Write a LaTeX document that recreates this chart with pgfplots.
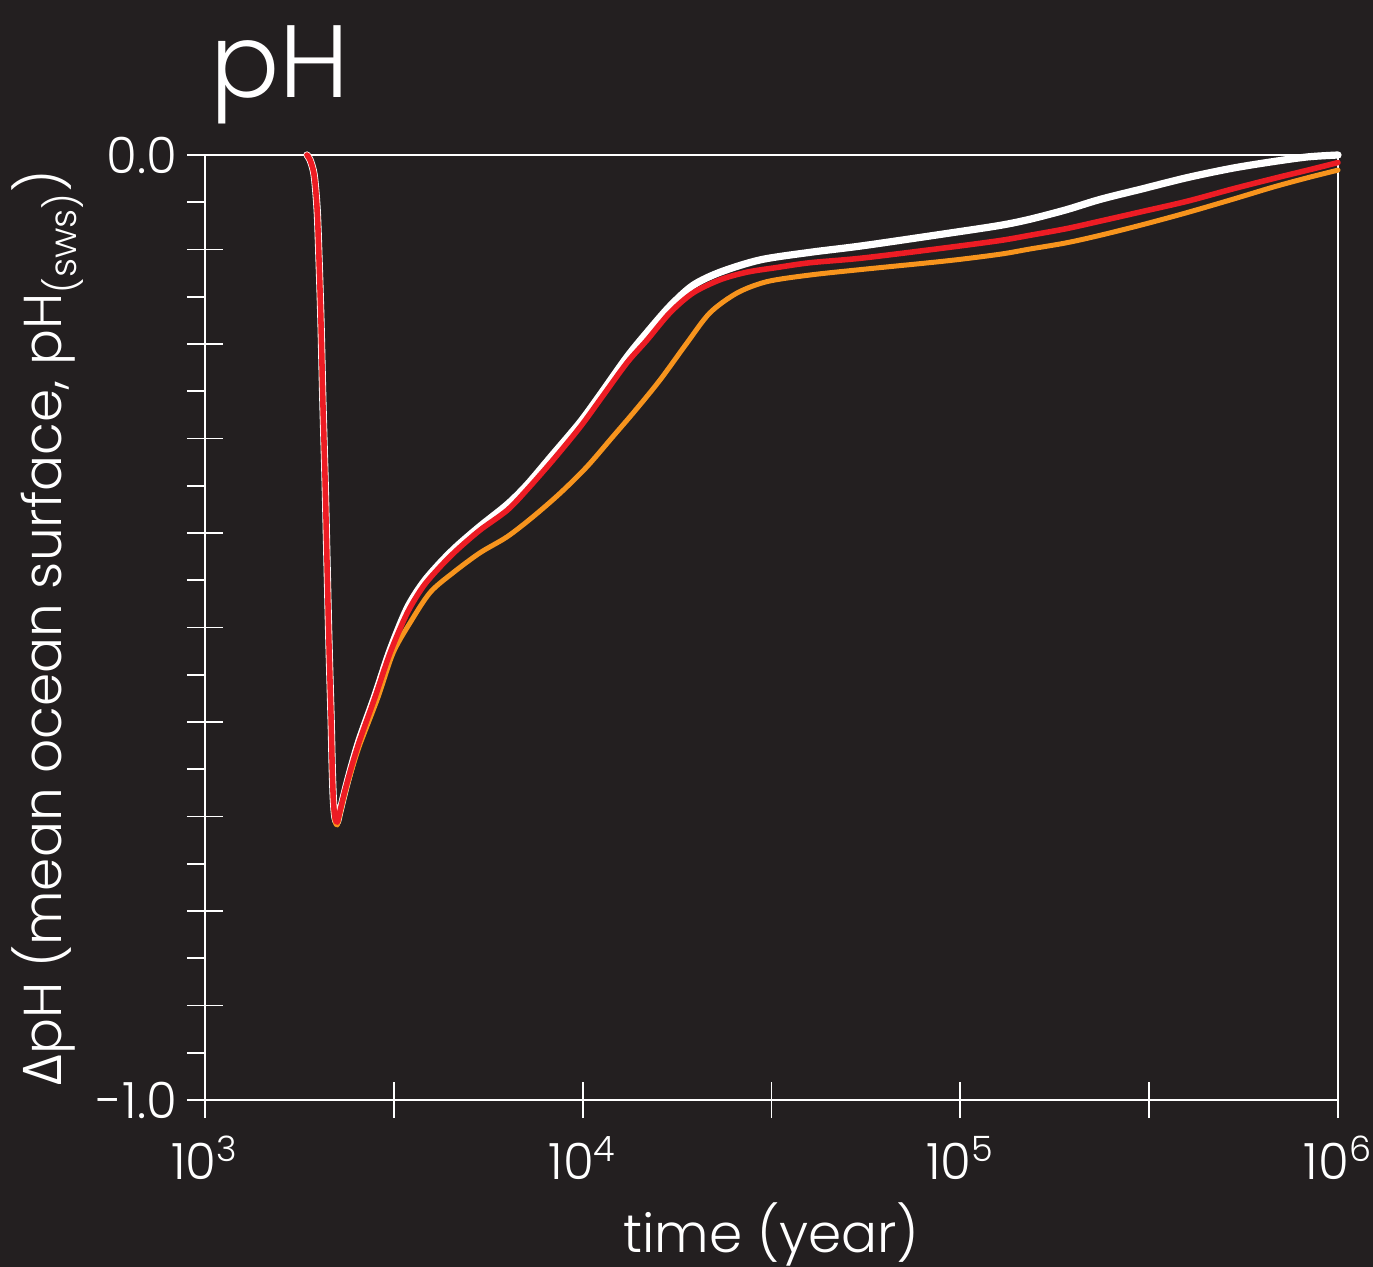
\documentclass[border=0pt]{standalone}
\usepackage{pgfplots}
\pgfplotsset{compat=1.18}
\usepackage{fontspec}
\setmainfont{Poppins}[UprightFont={* Light}]
\newfontfamily\greekfont{Open Sans}
\definecolor{bgc}{HTML}{231F20}
\definecolor{pred}{HTML}{ED1C24}
\definecolor{porange}{HTML}{F7941D}
\begin{document}
\begin{tikzpicture}
\fill[bgc] (-73.8pt,-60.1pt) rectangle (420.5pt,396pt);
\begin{axis}[
  at={(0,0)}, anchor=south west,
  scale only axis, width=407.9pt, height=340.2pt,
  xmin=3, xmax=6, ymin=-1, ymax=0,
  clip=false,
  axis line style={white, line width=0.8pt},
  every tick/.style={white, line width=0.7pt},
  tick align=center, major tick length=13pt, minor tick length=6.5pt,
  minor tick style={xshift=-3.25pt},
  xtick pos=bottom, ytick pos=left,
  xtick={3,3.5,4,4.5,5,5.5,6},
  xticklabels={10\textsuperscript{3},,10\textsuperscript{4},,10\textsuperscript{5},,10\textsuperscript{6}},
  ytick={-1,-0.9,-0.8,-0.7,-0.6,-0.5,-0.4,-0.3,-0.2,-0.1,0},
  yticklabels={-1.0,,,,,,,,,,0.0},
  minor ytick={-0.95,-0.85,-0.75,-0.65,-0.55,-0.45,-0.35,-0.25,-0.15,-0.05},
  ticklabel style={white, font=\fontsize{18}{20}\selectfont},
  xticklabel style={anchor=base, yshift=-22pt},
  yticklabel style={anchor=east},
  xlabel style={white, font=\fontsize{19.2}{22}\selectfont, at={(axis description cs:0.5,-0.161)}, anchor=base},
  ylabel style={white, font=\fontsize{19.2}{22}\selectfont, at={(axis description cs:-0.1263,0.5)}, anchor=base},
  xlabel={time (year)},
  ylabel={{\greekfont Δ}pH (mean ocean surface, pH\textsubscript{(sws)})},
  every axis plot/.append style={smooth, tension=0.5, line join=round, line cap=round},
]
% white
\addplot[white, line width=2.6pt] coordinates {
(3.270,0.0) (3.278,-0.005) (3.289,-0.021) (3.297,-0.058) (3.302,-0.111) (3.307,-0.175)
(3.312,-0.259) (3.318,-0.344) (3.323,-0.429) (3.328,-0.513) (3.334,-0.598) (3.337,-0.650)
(3.340,-0.683) (3.344,-0.701) (3.350,-0.706) (3.357,-0.695) (3.371,-0.672) (3.389,-0.645)
(3.410,-0.617) (3.450,-0.572) (3.490,-0.524) (3.535,-0.480) (3.577,-0.453) (3.622,-0.432)
(3.667,-0.414) (3.728,-0.393) (3.800,-0.370) (3.853,-0.349) (3.921,-0.317) (3.993,-0.283)
(4.046,-0.254) (4.117,-0.214) (4.170,-0.188) (4.231,-0.160) (4.292,-0.138) (4.364,-0.124)
(4.470,-0.111) (4.602,-0.103) (4.742,-0.096) (4.965,-0.083) (5.105,-0.0745) (5.184,-0.068)
(5.280,-0.058) (5.370,-0.047) (5.480,-0.036) (5.600,-0.024) (5.720,-0.014) (5.828,-0.007)
(5.920,-0.002) (6.000,0.0)
};
% orange
\addplot[porange, line width=1.8pt] coordinates {
(3.270,0.0) (3.278,-0.005) (3.289,-0.021) (3.297,-0.058) (3.302,-0.111) (3.307,-0.175)
(3.312,-0.259) (3.318,-0.344) (3.323,-0.429) (3.328,-0.513) (3.334,-0.598) (3.337,-0.651)
(3.340,-0.684) (3.344,-0.704) (3.350,-0.709) (3.357,-0.698) (3.371,-0.675) (3.389,-0.650)
(3.410,-0.624) (3.458,-0.574) (3.498,-0.527) (3.543,-0.495) (3.596,-0.463) (3.657,-0.442)
(3.728,-0.421) (3.800,-0.404) (3.868,-0.383) (3.940,-0.358) (4.011,-0.330)
(4.080,-0.298) (4.140,-0.270) (4.205,-0.238) (4.276,-0.199) (4.337,-0.167) (4.409,-0.146)
(4.488,-0.134) (4.602,-0.127) (4.742,-0.121) (4.965,-0.112) (5.105,-0.105) (5.184,-0.0995)
(5.280,-0.093) (5.370,-0.085) (5.480,-0.074) (5.600,-0.061) (5.720,-0.047) (5.828,-0.034)
(5.920,-0.024) (6.000,-0.016)
};
% red
\addplot[pred, line width=2.0pt] coordinates {
(3.270,0.0) (3.278,-0.005) (3.289,-0.021) (3.297,-0.058) (3.302,-0.111) (3.307,-0.175)
(3.312,-0.259) (3.318,-0.344) (3.323,-0.429) (3.328,-0.513) (3.334,-0.598) (3.337,-0.650)
(3.340,-0.683) (3.344,-0.701) (3.350,-0.706) (3.357,-0.695) (3.371,-0.672) (3.389,-0.646)
(3.410,-0.619) (3.450,-0.574) (3.490,-0.527) (3.535,-0.485) (3.577,-0.457) (3.622,-0.436)
(3.667,-0.418) (3.728,-0.397) (3.800,-0.376) (3.853,-0.354) (3.921,-0.323) (3.993,-0.288)
(4.046,-0.259) (4.117,-0.220) (4.170,-0.196) (4.231,-0.167) (4.292,-0.146) (4.364,-0.132)
(4.435,-0.124) (4.515,-0.119) (4.602,-0.114) (4.742,-0.109) (4.965,-0.098) (5.105,-0.0905)
(5.184,-0.085) (5.280,-0.078) (5.370,-0.070) (5.480,-0.060) (5.600,-0.049) (5.720,-0.036)
(5.828,-0.025) (5.920,-0.016) (6.000,-0.008)
};
\end{axis}
\node[white, anchor=base, font=\fontsize{37}{40}\selectfont] at (27pt,361pt) {pH};
\pgfresetboundingbox
\useasboundingbox (-73.8pt,-60.1pt) rectangle (420.5pt,396pt);
\end{tikzpicture}
\end{document}
